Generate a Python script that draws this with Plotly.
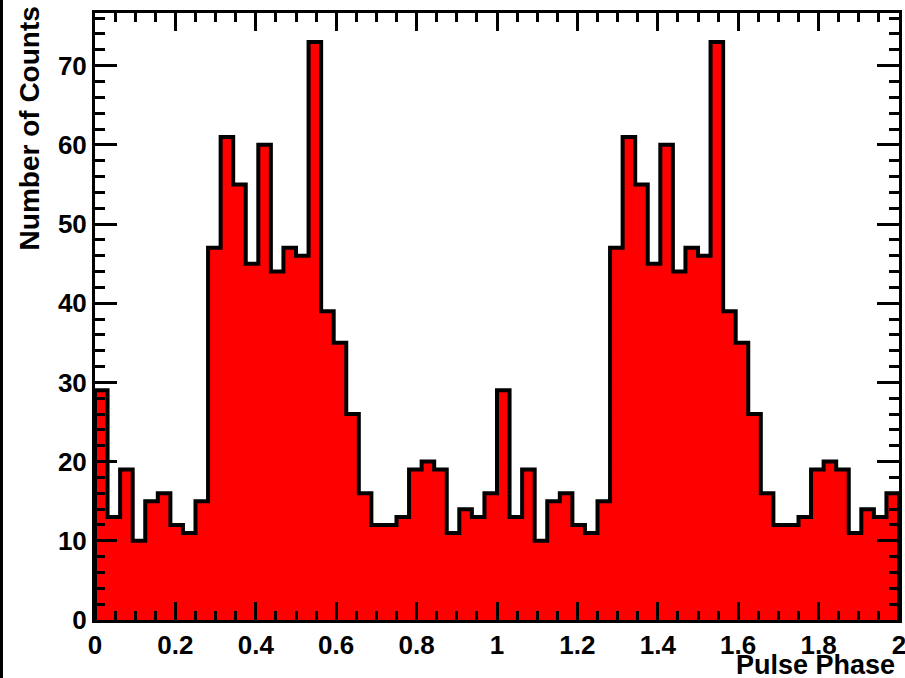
import numpy as np
import plotly.graph_objects as go

# Pulse phase histogram: 64 bins over phase 0..2 (two cycles)
phase_min = 0.0
phase_max = 2.0
counts = [29, 13, 19, 10, 15, 16, 12, 11, 15, 47, 61, 55, 45, 60, 44, 47,
          46, 73, 39, 35, 26, 16, 12, 12, 13, 19, 20, 19, 11, 14, 13, 16,
          29, 13, 19, 10, 15, 16, 12, 11, 15, 47, 61, 55, 45, 60, 44, 47,
          46, 73, 39, 35, 26, 16, 12, 12, 13, 19, 20, 19, 11, 14, 13, 16]
x_tick_vals = [0, 0.2, 0.4, 0.6, 0.8, 1.0, 1.2, 1.4, 1.6, 1.8, 2.0]
x_tick_text = ["0", "0.2", "0.4", "0.6", "0.8", "1", "1.2", "1.4", "1.6", "1.8", "2"]
y_tick_vals = [0, 10, 20, 30, 40, 50, 60, 70]
x_title = "Pulse Phase"
y_title = "Number of Counts"

nb = len(counts)
edges = np.linspace(phase_min, phase_max, nb + 1)
xs = [edges[0]] + list(edges[:-1]) + [edges[-1], edges[-1]]
ys = [0] + list(counts) + [counts[-1], 0]

FONT = "Liberation Sans, Arial, sans-serif"

fig = go.Figure()
fig.add_trace(go.Scatter(
    x=xs, y=ys, mode="lines", line=dict(shape="hv", color="black", width=4),
    fill="tozeroy", fillcolor="#ff0000", hoverinfo="skip", showlegend=False,
))

ymax = max(counts) * 1.05

fig.update_layout(
    width=905, height=678,
    margin=dict(l=95, r=6, t=13, b=58, autoexpand=False),
    paper_bgcolor="white", plot_bgcolor="white",
    font=dict(family=FONT, size=26, color="black", weight="bold"),
    xaxis=dict(
        range=[phase_min, phase_max], tickvals=x_tick_vals, ticktext=x_tick_text,
        ticks="inside", ticklen=18, tickwidth=3, tickcolor="black",
        minor=dict(dtick=0.05, tick0=0, ticks="inside", ticklen=9, tickwidth=3, tickcolor="black"),
        showline=True, linecolor="black", linewidth=3, mirror="allticks",
        showgrid=False, zeroline=False, automargin=False, ticklabeloverflow="allow",
        tickfont=dict(family=FONT, size=26, color="black", weight="bold"),
    ),
    yaxis=dict(
        range=[0, ymax], tickvals=y_tick_vals,
        ticks="inside", ticklen=22, tickwidth=3, tickcolor="black",
        minor=dict(dtick=2, tick0=0, ticks="inside", ticklen=10, tickwidth=3, tickcolor="black"),
        showline=True, linecolor="black", linewidth=3, mirror="allticks",
        showgrid=False, zeroline=False, automargin=False, ticklabeloverflow="allow",
        tickfont=dict(family=FONT, size=26, color="black", weight="bold"),
    ),
    annotations=[
        dict(text=x_title, xref="paper", yref="paper", x=0.9975, y=-0.0745,
             xanchor="right", yanchor="middle", showarrow=False,
             font=dict(family=FONT, size=27, color="black", weight="bold")),
        dict(text=y_title, xref="paper", yref="paper", x=-0.081, y=1.014,
             xanchor="center", yanchor="top", textangle=-90, showarrow=False,
             font=dict(family=FONT, size=28, color="black", weight="bold")),
    ],
    shapes=[
        dict(type="line", xref="paper", yref="paper", x0=-0.1163, x1=-0.1163,
             y0=-0.1, y1=1.03, line=dict(color="black", width=3)),
    ],
)

fig.write_html("out.html")
